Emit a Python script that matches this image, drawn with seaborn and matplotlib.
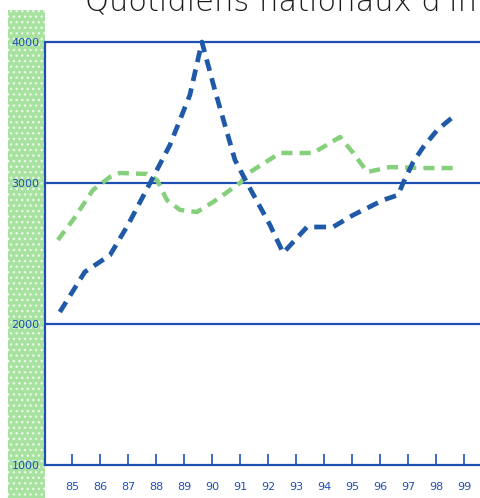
import matplotlib
matplotlib.use("Agg")
import matplotlib.pyplot as plt
import seaborn as sns
import pandas as pd
from matplotlib.patches import Rectangle

# valeurs
blue_years = [84.57, 85.46, 86.36, 87.0, 87.79, 88.5, 89.21, 89.64, 90.1, 90.82, 91.25,
              92.07, 92.54, 93.39, 94.32, 95.04, 96.11, 96.64, 96.82, 97.18, 97.54, 98.04, 98.68]
blue_vals = [2085, 2369, 2489, 2702, 3000, 3270, 3624, 4000, 3660, 3163, 3000,
             2702, 2504, 2688, 2688, 2773, 2879, 2915, 3000, 3149, 3255, 3376, 3482]
green_years = [84.5, 85.04, 85.75, 86.36, 86.71, 87.68, 88.04, 88.39, 88.86, 89.46, 90.04,
               91.0, 91.36, 92.43, 93.61, 94.57, 95.04, 95.54, 96.36, 97.54, 98.68]
green_vals = [2596, 2738, 2950, 3043, 3071, 3064, 3021, 2879, 2809, 2794, 2865,
              3000, 3078, 3213, 3213, 3326, 3213, 3078, 3113, 3106, 3106]
xticks = list(range(85, 100))
xlabels = [str(y) for y in xticks]
yticks = [1000, 2000, 3000, 4000]
title = "Quotidiens nationaux d'information"

blue = pd.DataFrame({"annee": blue_years, "valeur": blue_vals})
green = pd.DataFrame({"annee": green_years, "valeur": green_vals})

sns.set_style("white")
fig = plt.figure(figsize=(4.81, 4.98), dpi=100)
W, H = 481, 498

# bande verte a gauche (sous les axes)
fig.patches.append(Rectangle((8 / W, 0), 37 / W, 1 - 10 / H, transform=fig.transFigure,
                             facecolor="#a8e2a0", edgecolor="#eaf8e6", hatch="...",
                             linewidth=0, zorder=-1))

ax = fig.add_axes([45 / W, 33 / H, 1 - 45 / W, (465 - 42) / H])
ax.set_facecolor("none")

navy = "#1e50b4"
for y in [2000, 3000, 4000]:
    ax.axhline(y, color=navy, lw=1.6, zorder=1, clip_on=False)

sns.lineplot(data=green, x="annee", y="valeur", sort=False, ax=ax, color="#86cf7c",
             lw=3.2, dashes=False, linestyle=(0, (2.5, 1.6)), zorder=2)
sns.lineplot(data=blue, x="annee", y="valeur", sort=False, ax=ax, color="#1f5aa8",
             lw=3.4, dashes=False, linestyle=(0, (2.5, 1.6)), zorder=3, clip_on=False)

ax.set_xlim(84.04, 99.6)
ax.set_ylim(1000, 4000)
ax.set_xticks(xticks)
ax.set_xticklabels(xlabels)
ax.set_yticks(yticks)
ax.set_yticklabels([str(v) for v in yticks])
ax.set_xlabel("")
ax.set_ylabel("")
ax.tick_params(axis="x", direction="in", length=8, width=1.2, color=navy,
               labelcolor=navy, labelsize=8, pad=12, bottom=True)
ax.tick_params(axis="y", length=0, labelcolor=navy, labelsize=8, pad=4)
for s in ["top", "right"]:
    ax.spines[s].set_visible(False)
for s in ["left", "bottom"]:
    ax.spines[s].set_color(navy)
    ax.spines[s].set_linewidth(1.6)

# titre coupe en haut comme sur l'original
fig.text(85 / W, 1 - 11 / H, title, fontsize=22, color="#1a1a1a", va="baseline",
         ha="left", fontweight="light")

fig.savefig("out.png", dpi=100)
